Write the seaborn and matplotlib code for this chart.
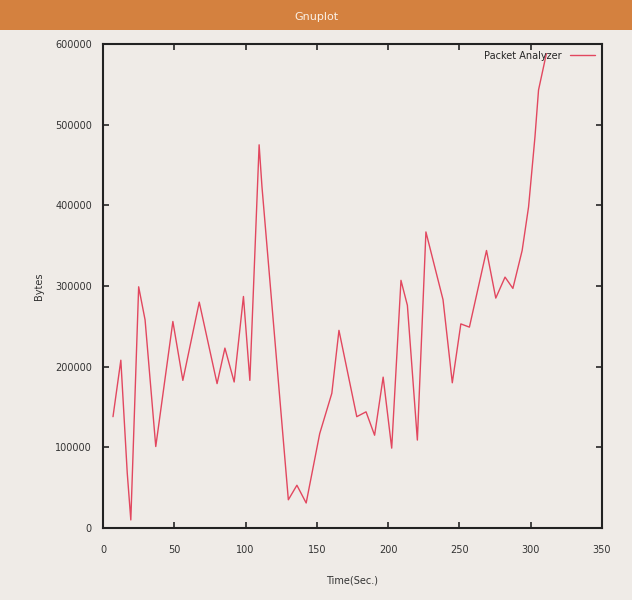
import pandas as pd
import seaborn as sns
import matplotlib.pyplot as plt
from matplotlib.patches import Rectangle

# values
time_sec = [7, 12.5, 17, 19.5, 25, 29.5, 37, 49, 56, 67.5, 80, 85.5, 92, 98.5,
            103, 109.5, 111.5, 130, 136, 142.5, 152, 160.5, 165.5, 178, 184.5,
            190.5, 196.5, 202.5, 209, 213.5, 220.5, 226.5, 238.5, 245, 251,
            257, 269, 275.5, 282, 287.5, 294, 298.5, 303, 305.5, 311]
bytes_sent = [138000, 208000, 68000, 10000, 299000, 258000, 101000, 256000,
              183000, 280000, 179000, 223000, 181000, 287000, 183000, 475000,
              423000, 35000, 53000, 31000, 117000, 167000, 245000, 138000,
              144000, 115000, 187000, 99000, 307000, 276000, 109000, 367000,
              283000, 180000, 253000, 249000, 344000, 285000, 311000, 297000,
              344000, 398000, 485000, 543000, 588000]
x_ticks = [0, 50, 100, 150, 200, 250, 300, 350]
y_ticks = [0, 100000, 200000, 300000, 400000, 500000, 600000]

df = pd.DataFrame({"Time(Sec.)": time_sec, "Bytes": bytes_sent})

bg = "#efebe7"
sns.set_style("ticks")
plt.rcParams["font.family"] = ["DejaVu Sans"]

fig = plt.figure(figsize=(6.32, 6.0), dpi=100, facecolor=bg)
ax = fig.add_axes([0.163, 0.12, 0.7895, 0.8067])
ax.set_facecolor(bg)

sns.lineplot(data=df, x="Time(Sec.)", y="Bytes", ax=ax, color="#e2475f",
             linewidth=1.0, label="Packet Analyzer")

ax.set_xlim(0, 350)
ax.set_ylim(0, 600000)
ax.set_xticks(x_ticks)
ax.set_yticks(y_ticks)
ax.set_xticklabels([str(t) for t in x_ticks], fontsize=7, color="#333333")
ax.set_yticklabels([str(t) for t in y_ticks], fontsize=7, color="#333333")
ax.tick_params(direction="in", length=4, width=1.2, top=True, right=True)
ax.tick_params(axis="x", pad=12)
ax.tick_params(axis="y", pad=8)
for s in ax.spines.values():
    s.set_linewidth(1.5)
    s.set_color("#222222")
ax.set_xlabel("Time(Sec.)", fontsize=7, labelpad=15, color="#333333")
ax.set_ylabel("Bytes", fontsize=7, labelpad=8, color="#333333")

leg = ax.legend(loc="upper right", frameon=False, fontsize=7, handlelength=2.6,
                borderaxespad=0.3, markerfirst=False)

# window title bar
fig.patches.append(Rectangle((0, 0.95), 1, 0.05, transform=fig.transFigure,
                             facecolor="#d4813f", edgecolor="none"))
fig.text(0.5, 0.972, "Gnuplot", ha="center", va="center", fontsize=8,
         color="#fbf1e6")

fig.savefig("out.png", dpi=100, facecolor=bg)
